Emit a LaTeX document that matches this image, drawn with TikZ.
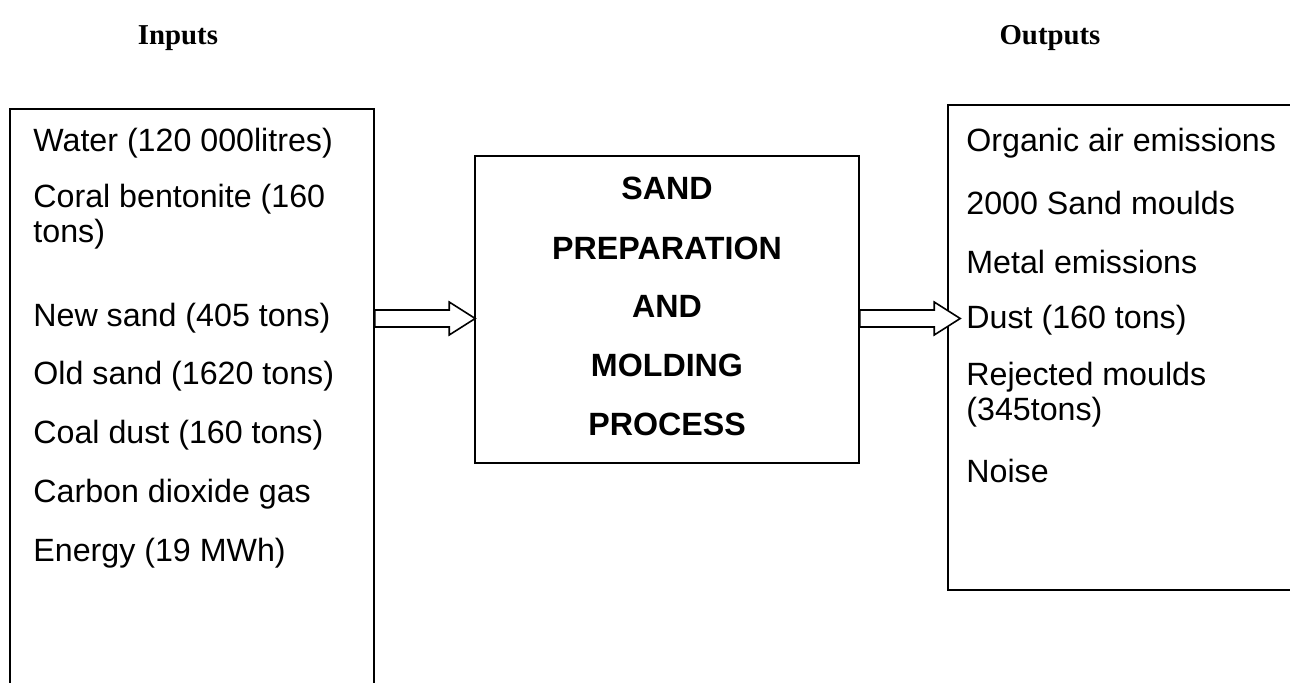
\documentclass[tikz,border=0pt]{standalone}
\usepackage{fontspec}
\setmainfont{Liberation Sans}
\newfontfamily\headfont{Liberation Serif}
\usetikzlibrary{calc}
\usepackage{xcolor}

\tikzset{
  box/.style={draw, line width=0.8pt, rectangle, inner sep=0pt},
  item/.style={anchor=west, inner sep=0pt, font=\fontsize{16.1}{18.5}\selectfont},
  title/.style={inner sep=0pt, font=\fontsize{16.1}{18.5}\selectfont\bfseries},
  head/.style={inner sep=0pt, font=\fontsize{14.4}{17}\selectfont\headfont\bfseries},
  blockarrow/.style={draw, line width=0.8pt, fill=white}
}

\begin{document}
\begin{tikzpicture}[x=0.5pt,y=-0.5pt]
      \useasboundingbox (0,0) rectangle (1290,683);
      \clip (0,0) rectangle (1290,683);

      % Headings
      \node[head] (inputs) at (178,38) {Inputs};
      \node[head] (outputs) at (1050,38) {Outputs};

      % Boxes
      \node[box, minimum width=182pt, minimum height=305.5pt] (inbox) at (192,414.5) {};
      \node[box, minimum width=192pt, minimum height=153.5pt] (proc) at (667,309.5) {};
      \node[box, minimum width=181pt, minimum height=242.5pt] (outbox) at (1129,347.5) {};

      % Inputs
      \foreach \y/\t in {143/Water (120 000litres), 199/Coral bentonite (160, 234/tons),
                         318/New sand (405 tons), 376/Old sand (1620 tons),
                         435/Coal dust (160 tons), 494/Carbon dioxide gas, 553/Energy (19 MWh)}
      {
        \node[item] (in\y) at (33,\y) {\t};
      }

      % Process
      \foreach \y/\t in {188/SAND, 248/PREPARATION, 306/AND, 365/MOLDING, 424/PROCESS}
      {
        \node[title] (p\y) at (667,\y) {\t};
      }

      % Outputs
      \foreach \y/\t in {143/Organic air emissions, 203/2000 Sand moulds, 262/Metal emissions,
                         320/Dust (160 tons), 377/Rejected moulds, 412/(345tons), 471/Noise}
      {
        \node[item] (out\y) at (966,\y) {\t};
      }

      % Arrows
      \coordinate (lvl) at (0,318.5);
      \foreach \a/\b/\d in {inbox/proc/1, proc/outbox/13}
      {
        \coordinate (s) at (\a.east |- lvl);
        \coordinate (t) at ($(\b.west |- lvl)+(\d,0)$);
        \draw[blockarrow] ($(s)+(0,-8.5)$) -- ($(t)+(-26,-8.5)$) -- ($(t)+(-26,-16.5)$) -- (t)
          -- ($(t)+(-26,16.5)$) -- ($(t)+(-26,8.5)$) -- ($(s)+(0,8.5)$) -- cycle;
      }
  \end{tikzpicture}
\end{document}
